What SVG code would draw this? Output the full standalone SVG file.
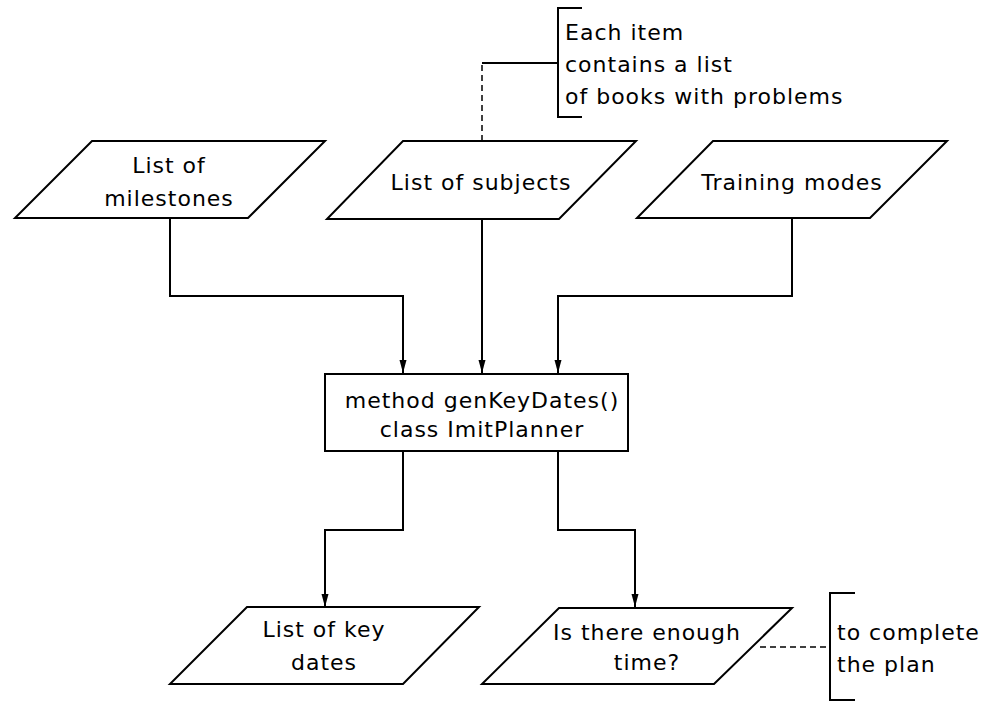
<svg xmlns="http://www.w3.org/2000/svg" width="987" height="712" viewBox="0 0 987 712">
<style>
.s{fill:#fff;stroke:#000;stroke-width:2}
.c{fill:none;stroke:#000;stroke-width:2}
.d{fill:none;stroke:#000;stroke-width:1.5;stroke-dasharray:6,4}
text{font-family:"DejaVu Sans",sans-serif;font-size:22px;fill:#000;letter-spacing:1px}
.m{text-anchor:middle}
</style>
<defs>
<marker id="a" markerWidth="14" markerHeight="10" refX="13" refY="5" orient="auto" markerUnits="userSpaceOnUse">
<path d="M0,1.5 L13,5 L0,8.5 Z" fill="#000"/>
</marker>
</defs>
<rect width="987" height="712" fill="#fff"/>
<g id="connectors">
<path class="c" d="M170,218 V296 H403 V373" marker-end="url(#a)"/>
<path class="c" d="M482,219 V373" marker-end="url(#a)"/>
<path class="c" d="M792,218 V296 H558 V373" marker-end="url(#a)"/>
<path class="c" d="M403,451 V530 H325 V607" marker-end="url(#a)"/>
<path class="c" d="M558,451 V530 H635 V607" marker-end="url(#a)"/>
<path class="d" d="M482,141 V63"/>
<path class="c" d="M482,63 H558"/>
<path class="d" d="M760,647 H830"/>
</g>
<g id="milestones">
<polygon class="s" points="92,141 325,141 248,218 15,218"/>
<text class="m" x="169" y="173">List of</text>
<text class="m" x="169" y="206">milestones</text>
</g>
<g id="subjects">
<polygon class="s" points="403,141 636,141 559,219 327,219"/>
<text class="m" x="481" y="190">List of subjects</text>
</g>
<g id="modes">
<polygon class="s" points="713,141 947,141 870,218 637,218"/>
<text class="m" x="792" y="190">Training modes</text>
</g>
<g id="method">
<rect class="s" x="325" y="374" width="303" height="77"/>
<text class="m" x="482" y="408">method genKeyDates()</text>
<text class="m" x="482" y="437">class ImitPlanner</text>
</g>
<g id="keydates">
<polygon class="s" points="247,607 479,607 403,684 170,684"/>
<text class="m" x="324" y="637">List of key</text>
<text class="m" x="324" y="670">dates</text>
</g>
<g id="enoughtime">
<polygon class="s" points="559,608 792,608 714,684 482,684"/>
<text class="m" x="647" y="640">Is there enough</text>
<text class="m" x="647" y="670">time?</text>
</g>
<g id="note-subjects">
<path class="c" d="M582,8 H558 V117 H582"/>
<text x="565" y="40">Each item</text>
<text x="565" y="72">contains a list</text>
<text x="565" y="104">of books with problems</text>
</g>
<g id="note-time">
<path class="c" d="M855,593 H830 V700 H855"/>
<text x="837" y="640">to complete</text>
<text x="837" y="672">the plan</text>
</g>
</svg>
